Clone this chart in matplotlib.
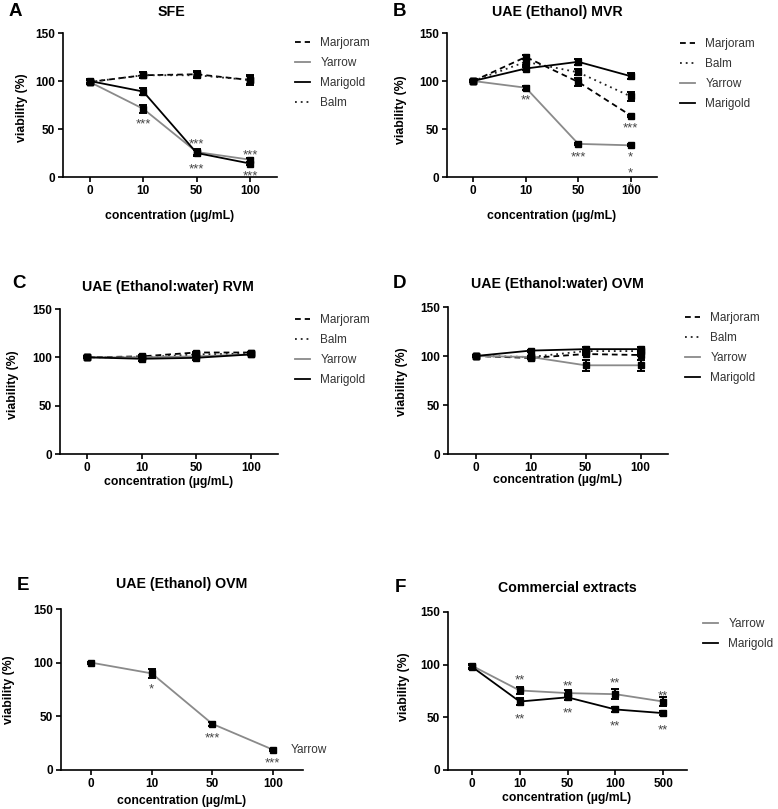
import matplotlib
matplotlib.use('Agg')
import matplotlib.pyplot as plt
import matplotlib.transforms as mtransforms

plt.rcParams['font.family'] = ['Liberation Sans', 'DejaVu Sans']

# ---------------- data ----------------
conc4 = ["0", "10", "50", "100"]
conc5 = ["0", "10", "50", "100", "500"]

# A: SFE
A_marjoram = [99, 106, 107, 101];   A_marjoram_err = [2, 3, 3, 5]
A_yarrow = [99, 71, 26, 18];        A_yarrow_err = [2, 4, 3, 2]
A_marigold = [100, 89, 25, 14];     A_marigold_err = [2, 4, 3, 2]
A_balm = [99, 106, 106, 101];       A_balm_err = [2, 3, 3, 4]
A_star_x = [1, 2, 2, 3, 3]
A_star_y = [59, 38, 12, 27, 5]
A_star_txt = ["***", "***", "***", "***", "***"]

# B: UAE (Ethanol) MVR
B_marjoram = [100, 125, 99, 64];    B_marjoram_err = [1, 2, 4, 1]
B_balm = [100, 120, 109, 84];       B_balm_err = [1, 3, 3, 5]
B_yarrow = [100, 93, 34.5, 33];     B_yarrow_err = [1, 2, 1, 1]
B_marigold = [100, 113, 120, 105];  B_marigold_err = [1, 2, 3, 3]
B_star_x = [1, 2, 3, 3, 3, 3]
B_star_y = [84, 24, 54.5, 24, 7.6, -8]
B_star_txt = ["**", "***", "***", "*", "*", "*"]

# C: UAE (Ethanol:water) RVM
C_marjoram = [100, 101, 105, 105];  C_marjoram_err = [1, 1, 1, 1]
C_balm = [100, 100, 103, 104];      C_balm_err = [1, 1, 1, 1]
C_yarrow = [100, 100, 101, 103];    C_yarrow_err = [1, 1, 1, 1]
C_marigold = [100, 98.5, 99.5, 103]; C_marigold_err = [1, 2, 2, 1]

# D: UAE (Ethanol:water) OVM
D_marjoram = [100, 98, 102, 101];   D_marjoram_err = [1, 1, 1, 1]
D_balm = [100, 99, 105, 105];       D_balm_err = [1, 1, 1, 1]
D_yarrow = [100, 99, 90.5, 90.5];   D_yarrow_err = [0.5, 1, 5.5, 5.5]
D_marigold = [100, 105.5, 107, 107]; D_marigold_err = [1, 1, 2, 2]

# E: UAE (Ethanol) OVM
E_yarrow = [100, 90, 43, 19];       E_yarrow_err = [1, 4, 2, 1]
E_star_x = [1, 2, 3]
E_star_y = [79, 33, 10]
E_star_txt = ["*", "***", "***"]

# F: Commercial extracts
F_yarrow = [99, 75.5, 73, 72, 65];  F_yarrow_err = [2, 3, 3, 5, 4]
F_marigold = [98, 65, 69, 57.5, 54]; F_marigold_err = [2, 3, 3, 2, 2]
F_star_x = [1, 1, 2, 2, 3, 3, 4, 4]
F_star_y = [89, 52, 83, 57, 86, 45, 74, 41]
F_star_txt = ["**"] * 8

# ---------------- styles ----------------
STY = {
    'Marjoram': dict(color='black', ls=(0, (3.2, 2.2))),
    'Balm': dict(color='#222222', ls=(0, (1.0, 2.2))),
    'Yarrow': dict(color='#8a8a8a', ls='-'),
    'Marigold': dict(color='black', ls='-'),
}

W, H = 778, 809
fig = plt.figure(figsize=(W / 100, H / 100), dpi=100)


def box(l, t, r, b):
    return [l / W, 1 - b / H, (r - l) / W, (b - t) / H]


def fx(x):
    return x / W


def fy(y):
    return 1 - y / H


def panel(rect, cats, series, title, letter, title_xy, letter_xy, ylab_xy, xlab_xy,
          legend_xy=None, stars=None):
    ax = fig.add_axes(box(*rect))
    xs = list(range(len(cats)))
    for name, vals, err in series:
        st = STY[name]
        ax.plot(xs, vals, color=st['color'], ls=st['ls'], lw=1.3, label=name, zorder=2)
    for name, vals, err in series:
        ax.errorbar(xs, vals, yerr=err, fmt='none', ecolor='black', elinewidth=1.4,
                    capsize=2.8, capthick=1.4, zorder=3)
        ax.plot(xs, vals, 's', color='black', ms=4.4, zorder=4)
    ax.set_xlim(-0.5, len(cats) - 0.5)
    ax.set_ylim(0, 150)
    ax.set_yticks([0, 50, 100, 150])
    ax.set_xticks(xs)
    ax.set_xticklabels(cats)
    for s in ['top', 'right']:
        ax.spines[s].set_visible(False)
    for s in ['left', 'bottom']:
        ax.spines[s].set_linewidth(1.2)
    ax.tick_params(direction='out', length=3.5, width=1.2, labelsize=8.5, pad=2)
    for lab in ax.get_xticklabels() + ax.get_yticklabels():
        lab.set_fontweight('bold')
    fig.text(fx(title_xy[0]), fy(title_xy[1]), title, ha='center', va='center',
             fontsize=10.2, fontweight='bold')
    fig.text(fx(letter_xy[0]), fy(letter_xy[1]), letter, ha='center', va='center',
             fontsize=13.5, fontweight='bold')
    fig.text(fx(ylab_xy[0]), fy(ylab_xy[1]), 'viability (%)', rotation=90,
             ha='center', va='center', fontsize=8.8, fontweight='bold')
    fig.text(fx(xlab_xy[0]), fy(xlab_xy[1]), 'concentration (µg/mL)', ha='center',
             va='center', fontsize=8.8, fontweight='bold')
    if legend_xy is not None:
        leg = ax.legend(loc='upper left', bbox_to_anchor=(fx(legend_xy[0]), fy(legend_xy[1] - 5)),
                        bbox_transform=fig.transFigure, frameon=False, fontsize=8.5,
                        borderpad=0, borderaxespad=0, handlelength=1.3,
                        handletextpad=0.85, labelspacing=0.68)
        for t in leg.get_texts():
            t.set_color('#333333')
    if stars is not None:
        tr = mtransforms.offset_copy(ax.transData, fig=fig, x=0, y=-5, units='points')
        for sx, sy, txt in zip(*stars):
            ax.text(sx, sy, txt, transform=tr, ha='center', va='baseline', fontsize=9.5,
                    color='#444444', clip_on=False)
    return ax


panel((63, 33, 277, 177), conc4,
      [('Marjoram', A_marjoram, A_marjoram_err), ('Yarrow', A_yarrow, A_yarrow_err),
       ('Marigold', A_marigold, A_marigold_err), ('Balm', A_balm, A_balm_err)],
      'SFE', 'A', (171, 12), (15, 12), (22, 108), (170, 216), legend_xy=(295, 42),
      stars=(A_star_x, A_star_y, A_star_txt))

panel((447, 33, 657, 177), conc4,
      [('Marjoram', B_marjoram, B_marjoram_err), ('Balm', B_balm, B_balm_err),
       ('Yarrow', B_yarrow, B_yarrow_err), ('Marigold', B_marigold, B_marigold_err)],
      'UAE (Ethanol) MVR', 'B', (557, 12), (399, 12), (401, 110), (552, 216),
      legend_xy=(680, 43), stars=(B_star_x, B_star_y, B_star_txt))

panel((60, 309, 278, 454), conc4,
      [('Marjoram', C_marjoram, C_marjoram_err), ('Balm', C_balm, C_balm_err),
       ('Yarrow', C_yarrow, C_yarrow_err), ('Marigold', C_marigold, C_marigold_err)],
      'UAE (Ethanol:water) RVM', 'C', (168, 287), (19, 284), (13, 385), (169, 482),
      legend_xy=(295, 319))

panel((448, 307, 668, 454), conc4,
      [('Marjoram', D_marjoram, D_marjoram_err), ('Balm', D_balm, D_balm_err),
       ('Yarrow', D_yarrow, D_yarrow_err), ('Marigold', D_marigold, D_marigold_err)],
      'UAE (Ethanol:water) OVM', 'D', (557, 284), (399, 283), (402, 382), (558, 480),
      legend_xy=(685, 317))

axE = panel((61, 609, 303, 770), conc4,
            [('Yarrow', E_yarrow, E_yarrow_err)],
            'UAE (Ethanol) OVM', 'E', (182, 584), (23, 586), (9, 690), (182, 801),
            stars=(E_star_x, E_star_y, E_star_txt))
axE.annotate('Yarrow', xy=(3, E_yarrow[3]), xytext=(13, 0), textcoords='offset points',
             ha='left', va='center', fontsize=8.5, color='#333333', annotation_clip=False)

panel((448, 612, 687, 770), conc5,
      [('Yarrow', F_yarrow, F_yarrow_err), ('Marigold', F_marigold, F_marigold_err)],
      'Commercial extracts', 'F', (567, 588), (400, 587), (404, 687), (567, 798),
      legend_xy=(703, 623), stars=(F_star_x, F_star_y, F_star_txt))

fig.savefig('out.png', dpi=100)
